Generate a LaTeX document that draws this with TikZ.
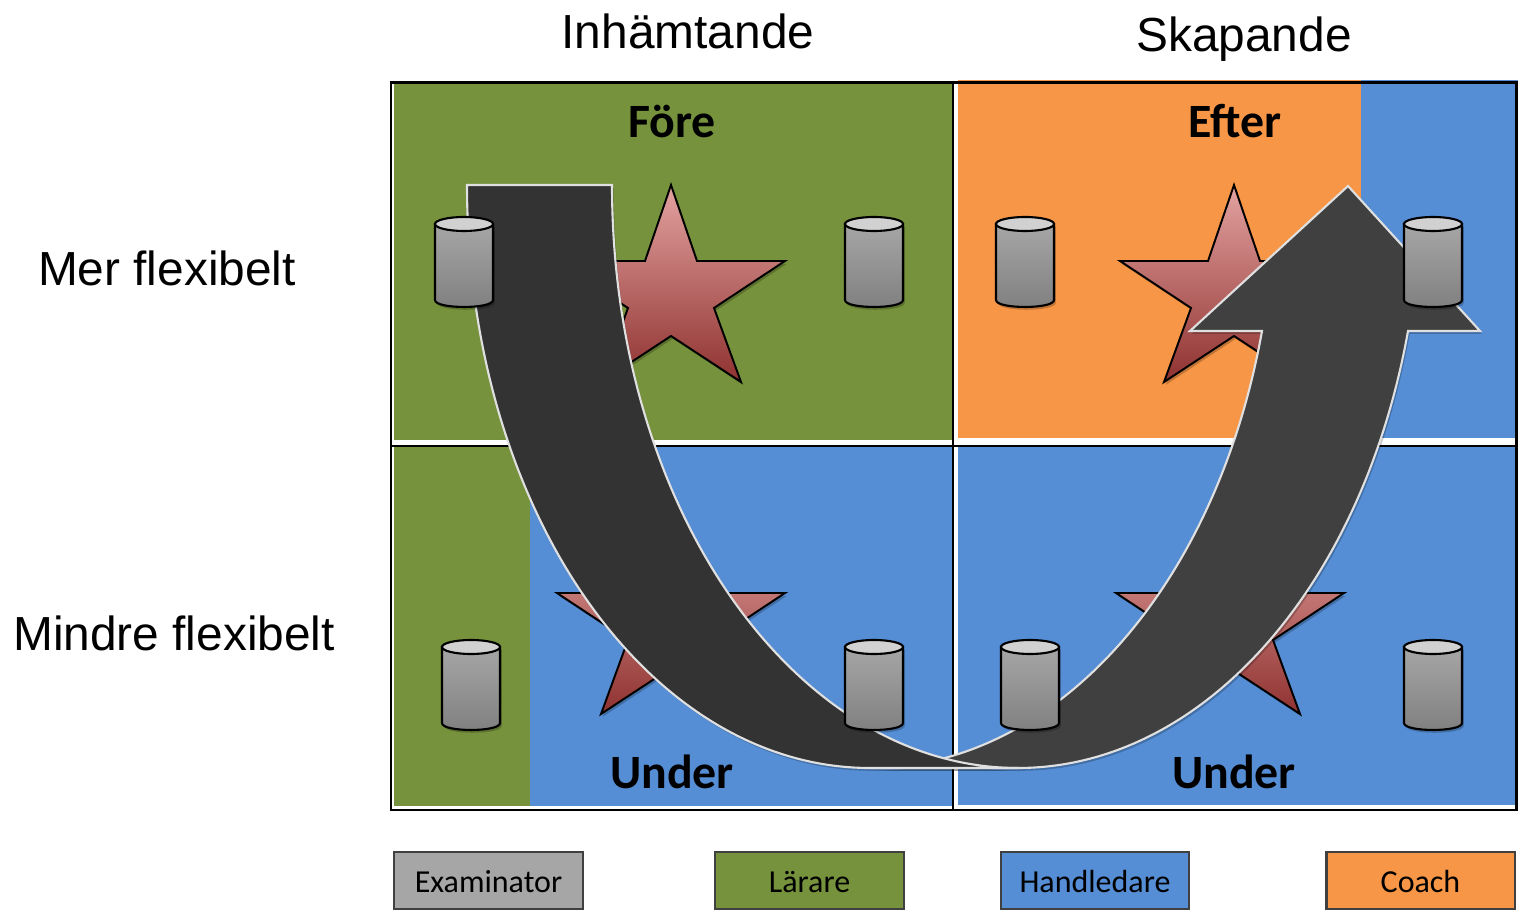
\documentclass[tikz,border=0pt]{standalone}
\usepackage{fontspec}
\setmainfont{Liberation Sans}
\newfontfamily\calfont{Carlito}
\usetikzlibrary{shadows}
\definecolor{larargreen}{HTML}{76923C}
\definecolor{coachorange}{HTML}{F79646}
\definecolor{handblue}{HTML}{558ED5}
\definecolor{examgray}{HTML}{A6A6A6}
\definecolor{stardark}{HTML}{8F3230}
\definecolor{starmid}{HTML}{C27877}
\definecolor{starlight}{HTML}{E3A3A1}
\tikzset{
  softshadow/.style={drop shadow={shadow xshift=0.5pt,shadow yshift=-0.8pt,opacity=0.22,fill=black}},
  axislabel/.style={font=\fontsize{13.6pt}{15pt}\selectfont},
  phaselabel/.style={font=\calfont\bfseries\fontsize{13.6pt}{15pt}\selectfont},
  rolebox/.style={draw=black!75,line width=0.7pt,minimum width=53.6pt,minimum height=16.3pt,inner sep=0pt,
    text height=7pt,text depth=0.4pt,font=\calfont\fontsize{9.1pt}{10pt}\selectfont},
  starshape/.style={draw=black,line width=0.55pt,top color=starlight,middle color=starmid,bottom color=stardark,softshadow},
  bigarrow/.style={draw=black!12,line width=0.6pt,softshadow},
  can/.pic={
    \draw[black,line width=0.6pt,top color=examgray,bottom color=black!50,softshadow] (-29,7) -- (-29,83)
      .. controls (-29,92.3) and (29,92.3) .. (29,83) -- (29,7) -- cycle;
    \draw[black,line width=0.6pt,fill=black!18] (0,7) ellipse [x radius=29,y radius=7];
  }
}
\begin{document}
\begin{tikzpicture}[x=0.01cm,y=-0.01cm]
  \useasboundingbox (0,0) rectangle (1518,913);
  % coloured fields
  \fill[larargreen] (394,81) rectangle (954,440);
  \fill[coachorange] (958,80) rectangle (1361,438);
  \fill[handblue] (1361,80) rectangle (1518,438);
  \fill[larargreen] (394,447) rectangle (530,806);
  \fill[handblue] (530,447) rectangle (952,806);
  \fill[handblue] (958,447) rectangle (1516,805);
  % grid
  \draw[black,line width=0.85pt] (391,83) rectangle (1516,810);
  \draw[black,line width=0.65pt] (953,83) -- (953,810);
  \draw[black,line width=0.65pt] (391,446) -- (1516,446);
  % stars
  \foreach \sx/\sy in {671/185,1234/185,671/517,1230/517}{
    \draw[starshape,shift={(\sx,\sy)}] (0,0) -- (26,76) -- (114,76) -- (43,123) -- (70,197) -- (0,151)
      -- (-70,197) -- (-43,123) -- (-114,76) -- (-26,76) -- cycle;
  }
  % arrows
  \draw[bigarrow,fill=black!75] (1018,768) .. controls (1202,768) and (1362,588) .. (1408,331) -- (1480,331)
    -- (1348,186) -- (1190,331) -- (1262,331) .. controls (1216,588) and (1055,768) .. (870,768) -- cycle;
  \draw[bigarrow,fill=black!80] (467,185) -- (612,185) .. controls (612,507) and (794,768) .. (1018,768)
    -- (870,768) .. controls (647,768) and (467,507) .. (467,185) -- cycle;
  % cans
  \foreach \cx/\cy in {464/217,874/217,1025/217,1433/217,471/640,874/640,1030/640,1433/640}{
    \pic at (\cx,\cy) {can};
  }
  % labels
  \node[axislabel] (inhamtande) at (688,31) {Inhämtande};
  \node[axislabel] (skapande) at (1244,39) {Skapande};
  \node[axislabel] (merflex) at (167,268) {Mer flexibelt};
  \node[axislabel] (mindreflex) at (174,633) {Mindre flexibelt};
  \node[phaselabel] (fore) at (672,121) {Före};
  \node[phaselabel] (efter) at (1235,121) {Efter};
  \node[phaselabel] (underA) at (672,772) {Under};
  \node[phaselabel] (underB) at (1234,772) {Under};
  % legend
  \node[rolebox,fill=examgray] (examinator) at (488.5,880.5) {Examinator};
  \node[rolebox,fill=larargreen] (larare) at (809.5,880.5) {Lärare};
  \node[rolebox,fill=handblue] (handledare) at (1095,880.5) {Handledare};
  \node[rolebox,fill=coachorange] (coach) at (1420.5,880.5) {Coach};
\end{tikzpicture}
\end{document}
